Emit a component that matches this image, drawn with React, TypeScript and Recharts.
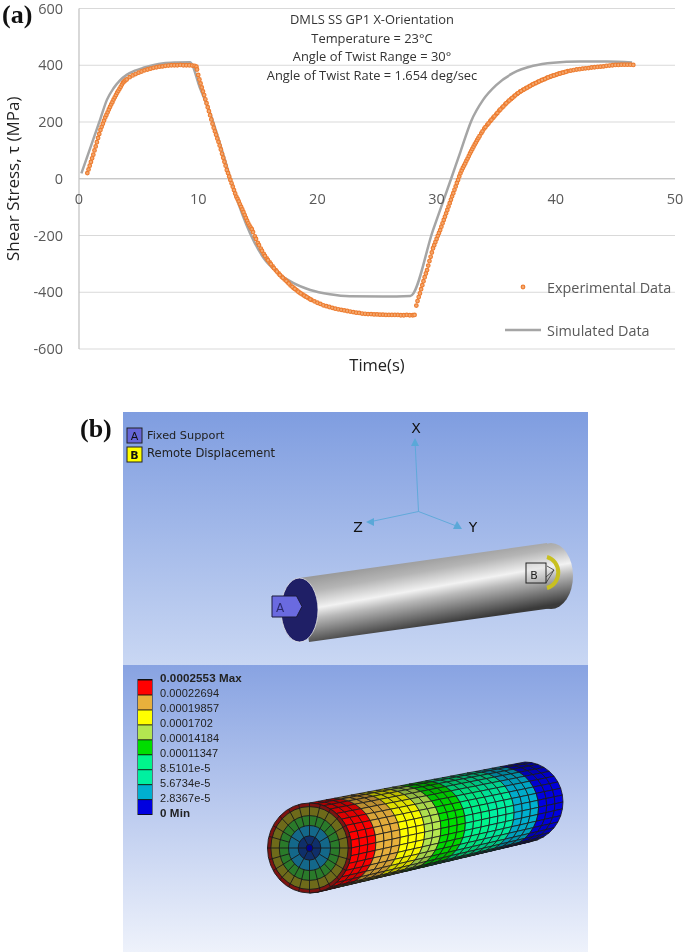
import React from 'react';
import { ComposedChart, Line, Scatter, XAxis, YAxis, CartesianGrid, ReferenceLine, Legend } from 'recharts';

const xTicks = [0, 10, 20, 30, 40, 50];
const yTicks = [-600, -400, -200, 0, 200, 400, 600];

const expTime = [
  0.7, 0.8, 0.9, 1, 1.1, 1.2, 1.3, 1.4, 1.5, 1.6,
  1.7, 1.8, 1.9, 2, 2.1, 2.2, 2.3, 2.4, 2.5, 2.6,
  2.7, 2.8, 2.9, 3, 3.1, 3.2, 3.3, 3.4, 3.5, 3.6,
  3.7, 3.8, 3.9, 4, 4.25, 4.5, 4.75, 5, 5.25, 5.5,
  5.75, 6, 6.25, 6.5, 6.75, 7, 7.25, 7.5, 7.75, 8,
  8.25, 8.5, 8.75, 9, 9.25, 9.5, 9.7, 9.85, 9.9, 10,
  10.1, 10.2, 10.3, 10.4, 10.5, 10.6, 10.7, 10.8, 10.9, 11,
  11.1, 11.2, 11.3, 11.4, 11.5, 11.6, 11.7, 11.8, 11.9, 12,
  12.1, 12.2, 12.3, 12.4, 12.5, 12.6, 12.7, 12.8, 12.9, 13,
  13.1, 13.2, 13.3, 13.4, 13.5, 13.6, 13.7, 13.8, 13.9, 14,
  14.1, 14.2, 14.3, 14.4, 14.5, 14.75, 15, 15.25, 15.5, 15.75,
  16, 16.25, 16.5, 16.75, 17, 17.25, 17.5, 17.75, 18, 18.25,
  18.5, 18.75, 19, 19.25, 19.5, 19.75, 20, 20.25, 20.5, 20.75,
  21, 21.25, 21.5, 21.75, 22, 22.25, 22.5, 22.75, 23, 23.25,
  23.5, 23.75, 24, 24.25, 24.5, 24.75, 25, 25.25, 25.5, 25.75,
  26, 26.25, 26.5, 26.75, 27, 27.25, 27.5, 27.75, 28, 28.15,
  28.3, 28.4, 28.5, 28.6, 28.7, 28.8, 28.9, 29, 29.1, 29.2,
  29.3, 29.4, 29.5, 29.6, 29.7, 29.8, 29.9, 30, 30.1, 30.2,
  30.3, 30.4, 30.5, 30.6, 30.7, 30.8, 30.9, 31, 31.1, 31.2,
  31.3, 31.4, 31.5, 31.6, 31.7, 31.8, 31.9, 32, 32.1, 32.2,
  32.3, 32.4, 32.5, 32.6, 32.7, 32.8, 32.9, 33, 33.1, 33.2,
  33.3, 33.4, 33.5, 33.75, 34, 34.25, 34.5, 34.75, 35, 35.25,
  35.5, 35.75, 36, 36.25, 36.5, 36.75, 37, 37.25, 37.5, 37.75,
  38, 38.25, 38.5, 38.75, 39, 39.25, 39.5, 39.75, 40, 40.25,
  40.5, 40.75, 41, 41.25, 41.5, 41.75, 42, 42.25, 42.5, 42.75,
  43, 43.25, 43.5, 43.75, 44, 44.25, 44.5, 44.75, 45, 45.25,
  45.5, 45.75, 46, 46.25, 46.5,
  // the dense stretches, where the markers run together
  14.6, 14.85, 15.1, 15.35, 15.6, 15.85, 16.1, 16.35, 16.6, 16.85,
  17.1, 17.4, 17.6, 17.9, 18.1, 18.4, 18.6, 18.9, 19.1, 19.4,
  33.6, 33.85, 34.1, 34.35, 34.6, 34.85, 35.1, 35.35, 35.6, 35.85,
  36.1, 36.35, 36.6, 36.85, 37.1, 37.35, 37.6, 37.85, 38.1, 38.35,
  38.6, 38.85, 39.1, 39.35, 39.6, 39.85, 40.1, 40.35, 40.6, 40.85,
];

const expStress = [
  20, 33, 46, 59, 72, 85, 100, 114, 129, 144,
  158, 172, 183, 194, 205, 216, 225, 234, 244, 253,
  262, 270, 279, 287, 295, 303, 310, 317, 324, 332,
  339, 343, 347, 350, 358, 364, 369, 374, 378, 382,
  385, 388, 391, 393, 395, 396, 398, 399, 400, 400,
  400, 401, 400, 400, 400, 399, 398, 395, 385, 366,
  350, 336, 322, 308, 295, 280, 266, 252, 238, 224,
  209, 194, 180, 167, 155, 142, 130, 117, 103, 88,
  74, 60, 46, 31, 20, 8, -4, -16, -28, -40,
  -52, -63, -71, -80, -90, -99, -108, -118, -128, -138,
  -148, -157, -165, -172, -178, -203, -226, -246, -265, -281,
  -295, -309, -322, -334, -345, -355, -365, -376, -385, -393,
  -401, -408, -415, -421, -427, -432, -437, -441, -446, -449,
  -452, -455, -458, -460, -462, -464, -466, -468, -470, -472,
  -473, -475, -476, -477, -477, -478, -478, -479, -479, -480,
  -480, -480, -480, -480, -481, -481, -480, -481, -481, -480,
  -447, -431, -417, -404, -389, -375, -361, -347, -334, -322,
  -306, -290, -275, -260, -245, -234, -223, -212, -201, -191,
  -181, -169, -157, -145, -134, -122, -110, -98, -86, -74,
  -62, -51, -39, -27, -15, -4, 8, 19, 29, 38,
  46, 54, 63, 71, 80, 89, 97, 105, 113, 121,
  128, 136, 143, 160, 177, 190, 203, 215, 227, 240,
  251, 262, 272, 281, 290, 299, 307, 313, 319, 325,
  331, 336, 341, 346, 350, 355, 359, 363, 366, 370,
  373, 376, 379, 381, 383, 385, 386, 388, 389, 390,
  392, 393, 394, 395, 396, 398, 399, 400, 401, 401,
  402, 402, 402, 402, 401,
  -188, -212, -234, -254, -272, -287, -301, -315, -327, -339,
  -349, -360, -369, -381, -388, -398, -404, -412, -417, -425,
  150, 167, 182, 195, 208, 220, 232, 244, 255, 266,
  276, 285, 294, 302, 309, 315, 321, 327, 333, 338,
  343, 348, 352, 357, 361, 364, 368, 371, 374, 377,
];

const simTime = [
  0.2, 1, 1.8, 2.34, 2.9, 3.4, 4, 4.7, 5.4, 6.2, 7.1, 8.2, 9.3,
  10.15, 11, 12, 13, 13.7, 14.35, 15.5, 16.6, 18, 19.4, 21.05, 22.7, 25.5, 27.8,
  29.7, 31.1, 32, 32.9, 33.9, 35, 36.4, 38.1, 39.8, 42, 44.3, 46.4,
];
const simStress = [
  19, 115, 212, 278, 319, 345, 366, 381, 391, 400, 407, 410, 411,
  320, 231, 100, -40, -125, -192, -280, -328, -368, -392, -407, -414, -415, -413,
  -181, -14, 95, 203, 278, 330, 372, 398, 409, 413, 413, 410,
];

const titleLines = [
  'DMLS SS GP1 X-Orientation',
  'Temperature = 23°C',
  'Angle of Twist Range = 30°',
  'Angle of Twist Rate = 1.654 deg/sec',
];

const contourLabels = [
  '0.0002553 Max', '0.00022694', '0.00019857', '0.0001702', '0.00014184',
  '0.00011347', '8.5101e-5', '5.6734e-5', '2.8367e-5', '0 Min',
];
const contourColors = [
  '#ff0000', '#e8b03c', '#ffff00', '#b4e650', '#00de00',
  '#00f58c', '#00f0a0', '#00b0d0', '#0000e0',
];
const contourBands = [0.12, 0.245, 0.33, 0.42, 0.545, 0.64, 0.75, 0.885, 1];

const expData = expTime.map((t, i) => ({ t, stress: expStress[i] }));
const simData = simTime.map((t, i) => ({ t, stress: simStress[i] }));

const sans = '"Open Sans", sans-serif';
const ansys = '"DejaVu Sans", sans-serif';

const ExpDot = (props: any) => (
  <circle cx={props.cx} cy={props.cy} r={1.8} fill="#f4a970" stroke="#ed7d31" strokeWidth={1.2} />
);

// zero height so the chart does not reserve room under the plot
const LegendBox = () => (
  <div style={{ position: 'relative', width: 180, height: 0, fontFamily: sans, fontSize: 14.4, color: '#595959' }}>
    <svg width={44} height={60} style={{ position: 'absolute', left: 0, top: 0 }}>
      <circle cx={18} cy={7} r={1.8} fill="#f4a970" stroke="#ed7d31" strokeWidth={1.2} />
      <line x1={0} x2={36} y1={50} y2={50} stroke="#a5a5a5" strokeWidth={2.5} />
    </svg>
    <span style={{ position: 'absolute', left: 42, top: -2, whiteSpace: 'nowrap' }}>Experimental Data</span>
    <span style={{ position: 'absolute', left: 42, top: 41, whiteSpace: 'nowrap' }}>Simulated Data</span>
  </div>
);

// mesh of the deformed shaft, near end to far end
const near = { x: 309.5, y: 848, rx: 42, ry: 45 };
const far = { x: 525, y: 802, rx: 38, ry: 40 };
const AXIAL = 26;
const AROUND = 18;

const shaftPoint = (u: number, a: number) => {
  const x = near.x + (far.x - near.x) * u;
  const y = near.y + (far.y - near.y) * u;
  const rx = near.rx + (far.rx - near.rx) * u;
  const ry = near.ry + (far.ry - near.ry) * u;
  return `${(x + rx * Math.cos(a)).toFixed(1)},${(y + ry * Math.sin(a)).toFixed(1)}`;
};

const MeshedShaft = () => {
  const cells: React.ReactNode[] = [];
  for (let i = 0; i < AXIAL; i++) {
    const u0 = i / AXIAL;
    const u1 = (i + 1) / AXIAL;
    const band = contourBands.findIndex((b) => (u0 + u1) / 2 <= b);
    for (let j = 0; j < AROUND; j++) {
      const a0 = -Math.PI / 2 + (Math.PI * j) / AROUND;
      const a1 = -Math.PI / 2 + (Math.PI * (j + 1)) / AROUND;
      const pts = [shaftPoint(u0, a0), shaftPoint(u1, a0), shaftPoint(u1, a1), shaftPoint(u0, a1)].join(' ');
      const s = Math.sin((a0 + a1) / 2);
      const shade = s > 0 ? s * s * s * 0.5 : -s * s * s * 0.35;
      cells.push(
        <g key={`${i}-${j}`}>
          <polygon points={pts} fill={contourColors[band]} />
          <polygon points={pts} fill="#000" fillOpacity={shade} stroke="#1a1a1a" strokeOpacity={0.9} strokeWidth={0.9} />
        </g>,
      );
    }
  }
  const rings = [1, 0.92, 0.72, 0.5, 0.27, 0.08];
  const ringFills = ['#7e1210', '#6e6a1a', '#2a7a2a', '#14688a', '#0f2f6a', '#000090'];
  const spokes: React.ReactNode[] = [];
  for (let k = 0; k < 24; k++) {
    const a = (k * Math.PI * 2) / 24;
    const inner = k % 4 === 0 ? 0.08 : k % 2 === 0 ? 0.27 : 0.5;
    spokes.push(
      <line
        key={k}
        x1={near.x + near.rx * inner * Math.cos(a)}
        y1={near.y + near.ry * inner * Math.sin(a)}
        x2={near.x + near.rx * Math.cos(a)}
        y2={near.y + near.ry * Math.sin(a)}
        stroke="#1a1a1a"
        strokeWidth={0.9}
      />,
    );
  }
  return (
    <g>
      {cells}
      {rings.map((r, k) => (
        <ellipse key={k} cx={near.x} cy={near.y} rx={near.rx * r} ry={near.ry * r} fill={ringFills[k]} stroke="#1a1a1a" strokeWidth={0.9} />
      ))}
      {spokes}
    </g>
  );
};

const Overlay = () => (
  <svg width={685} height={952} style={{ position: 'absolute', left: 0, top: 0 }}>
    <defs>
      <linearGradient id="bgTop" x1="0" y1="0" x2="0" y2="1">
        <stop offset="0" stopColor="#7f9de0" />
        <stop offset="1" stopColor="#c9d7f3" />
      </linearGradient>
      <linearGradient id="bgBottom" x1="0" y1="0" x2="0" y2="1">
        <stop offset="0" stopColor="#88a3e2" />
        <stop offset="1" stopColor="#eef2fb" />
      </linearGradient>
      <linearGradient id="steel" gradientUnits="userSpaceOnUse" x1="420" y1="558" x2="432" y2="626">
        <stop offset="0" stopColor="#9a9a9a" />
        <stop offset="0.2" stopColor="#b5b5b5" />
        <stop offset="0.45" stopColor="#f2f2f2" />
        <stop offset="0.6" stopColor="#b8b8b8" />
        <stop offset="1" stopColor="#3a3a3a" />
      </linearGradient>
    </defs>

    {titleLines.map((line, i) => (
      <text key={i} x={372} y={24 + i * 18.6} textAnchor="middle" fontFamily={sans} fontSize={12.9} fill="#333">
        {line}
      </text>
    ))}

    <text x={2} y={23} fontFamily='"Liberation Serif", serif' fontWeight="bold" fontSize={26} fill="#111">(a)</text>
    <text x={80} y={437} fontFamily='"Liberation Serif", serif' fontWeight="bold" fontSize={26} fill="#111">(b)</text>

    {/* geometry view */}
    <rect x={123} y={412} width={465} height={253} fill="url(#bgTop)" />
    <rect x={127} y={428} width={15} height={15} fill="#6666d8" stroke="#222" />
    <rect x={127} y={447} width={15} height={15} fill="#ffff00" stroke="#222" />
    <text x={134.5} y={440} textAnchor="middle" fontFamily={ansys} fontSize={11} fill="#111">A</text>
    <text x={134.5} y={459} textAnchor="middle" fontFamily={ansys} fontSize={11} fontWeight="bold" fill="#111">B</text>
    <text x={147} y={438.5} fontFamily={ansys} fontSize={11.3} fill="#222">Fixed Support</text>
    <text x={147} y={457} fontFamily={ansys} fontSize={11.6} fill="#222">Remote Displacement</text>

    <g stroke="#5aa8d8" strokeWidth={0.9}>
      <line x1={418.5} y1={511.5} x2={415} y2={441} />
      <line x1={418.5} y1={511.5} x2={369} y2={522} />
      <line x1={418.5} y1={511.5} x2={459} y2={527} />
    </g>
    <polygon points="415,438 411,446 419,446" fill="#5aa8d8" />
    <polygon points="366,522 374,518 374,526" fill="#5aa8d8" />
    <polygon points="462,529 453,529 457,521" fill="#5aa8d8" />
    <g fontFamily={ansys} fontSize={14} fill="#111" textAnchor="middle">
      <text x={416} y={433}>X</text>
      <text x={358} y={532}>Z</text>
      <text x={473} y={532}>Y</text>
    </g>

    <polygon points="299,578 547,543 553,608 309,642" fill="url(#steel)" />
    <ellipse cx={551} cy={576} rx={22} ry={33} fill="url(#steel)" />
    <ellipse cx={299.5} cy={610} rx={18.5} ry={32} fill="#1f1f66" stroke="#e6e6e6" strokeWidth={0.8} />
    <polygon points="272,596 296.5,596 302,606.5 296.5,617 272,617" fill="#6a6ae0" stroke="#1a1a3a" />
    <text x={280} y={612} textAnchor="middle" fontFamily={ansys} fontSize={12} fill="#2a2a70">A</text>
    <rect x={526} y={563} width={20} height={20} fill="#d0d0d0" fillOpacity={0.25} stroke="#222" />
    <text x={534} y={579} textAnchor="middle" fontFamily={ansys} fontSize={11} fill="#222">B</text>
    <path d="M546,583 L554,570 L547,566 M546,577 L554,570" fill="none" stroke="#333" strokeWidth={0.8} />
    <path d="M547,557 A15,16 0 0 1 547,588" fill="none" stroke="#c8c020" strokeWidth={4} />

    {/* contour view */}
    <rect x={123} y={665} width={465} height={287} fill="url(#bgBottom)" />
    <rect x={137.5} y={679} width={15} height={136} fill="#111" />
    {contourColors.map((c, i) => (
      <rect key={c} x={138} y={680.5 + i * 14.95} width={14} height={14} fill={c} />
    ))}
    {contourLabels.map((label, i) => (
      <text
        key={label}
        x={160}
        y={682 + i * 15}
        fontFamily='"Liberation Sans", sans-serif'
        fontSize={i === 0 || i === 9 ? 11.6 : 11}
        letterSpacing={0.1}
        fontWeight={i === 0 || i === 9 ? 'bold' : 'normal'}
        fill="#222"
      >
        {label}
      </text>
    ))}
    <MeshedShaft />
  </svg>
);

export default function App() {
  return (
    <div style={{ position: 'absolute', left: 0, top: 0, width: 685, height: 952, background: '#fff', overflow: 'hidden', filter: 'blur(0.4px)' }}>
      <Overlay />
      <div style={{ position: 'absolute', left: 0, top: 0 }}>
        <ComposedChart width={685} height={400} margin={{ top: 8.5, right: 10, left: 34, bottom: 21 }}>
          <CartesianGrid horizontal vertical={false} stroke="#d9d9d9" strokeWidth={1.2} />
          <XAxis
            type="number"
            dataKey="t"
            domain={[0, 50]}
            ticks={xTicks}
            interval={0}
            height={30}
            axisLine={false}
            tickLine={false}
            tick={{ fill: '#595959', fontSize: 14.5, fontFamily: sans, dy: -163 }}
            label={{ value: 'Time(s)', position: 'bottom', offset: -20, fill: '#222', fontSize: 16.5, fontFamily: sans }}
          />
          <YAxis
            type="number"
            width={45}
            domain={[-600, 600]}
            ticks={yTicks}
            interval={0}
            axisLine={{ stroke: '#bfbfbf', strokeWidth: 1.2 }}
            tickLine={false}
            tick={{ fill: '#595959', fontSize: 14.5, fontFamily: sans }}
            tickMargin={10}
            label={{ value: 'Shear Stress, τ (MPa)', angle: -90, position: 'center', dx: -44, fill: '#222', fontSize: 17, fontFamily: sans }}
          />
          <ReferenceLine y={0} stroke="#bfbfbf" strokeWidth={1.2} />
          <Line data={simData} dataKey="stress" name="Simulated Data" type="monotone" stroke="#a5a5a5" strokeWidth={2.5} dot={false} isAnimationActive={false} />
          <Scatter data={expData} dataKey="stress" name="Experimental Data" shape={ExpDot} isAnimationActive={false} />
          <Legend content={() => <LegendBox />} wrapperStyle={{ position: 'absolute', left: 505, top: 280, width: 180 }} />
        </ComposedChart>
      </div>
    </div>
  );
}
